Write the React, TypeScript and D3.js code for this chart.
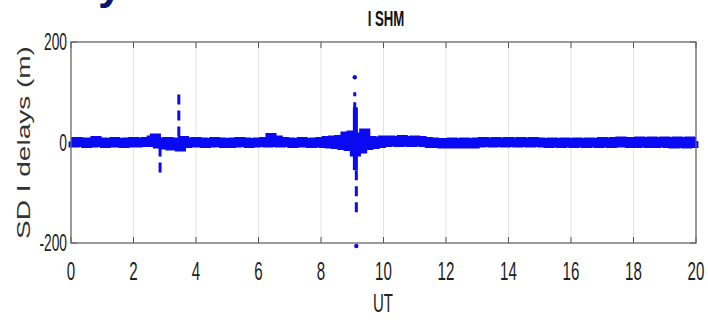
import React, { useEffect, useRef } from "react";
import * as d3 from "d3";

// UT hours sampled every 0.1 h, SD I delay in metres
const sampleStep = 0.1;
const sdDelay = [
  2, -2, 3, -1, 2, -3, 2, -2, 5, -1,
  2, -3, 1, -2, 3, -2, 1, -3, 2, -2,
  3, -2, 2, -1, 3, -1, 6, 10, -4, 2,
  -6, 3, -8, 2, -7, -10, 5, -3, 2, -2,
  3, -2, 2, -3, 1, -2, 3, -1, 2, -3,
  1, -3, 2, -2, 3, -1, 2, -3, 1, -2,
  2, -1, 3, -2, 11, -1, 6, -2, 3, -1,
  2, -3, 1, -2, 3, -2, 1, -3, 2, -2,
  3, -3, 5, -4, 6, -5, 7, -7, 14, -9,
  16, -20, 12, -14, 20, -7, 5, -5, 4, -3,
  6, -1, 6, 0, 5, -1, 7, 0, 5, -1,
  6, 0, 5, -1, 3, -3, 2, -3, 1, -4,
  1, -4, 2, -4, 1, -4, 2, -4, 1, -4,
  2, -2, 3, -1, 2, -2, 3, -1, 2, -2,
  3, -1, 2, -2, 3, -1, 2, -2, 3, -1,
  2, -2, 1, -3, 2, -2, 1, -3, 2, -2,
  1, -3, 2, -2, 1, -3, 2, -2, 1, -3,
  3, -2, 2, -3, 3, -2, 4, -2, 3, -3,
  3, -3, 4, -2, 3, -3, 4, -3, 3, -2,
  4, -3, 3, -4, 4, -3, 3, -4, 4, -3,
  3,
];

// short bursts that leave the band
const spikeHours = [2.85, 3.45, 9.08, 9.1, 9.13];
const spikeFrom = [-8, 12, 60, 70, -55];
const spikeTo = [-62, 100, 100, -55, -150];
const spikeDashed = [true, true, true, false, true];

// isolated points
const outlierHours = [9.08, 9.13];
const outlierValues = [130, -206];

const xTicks = [0, 2, 4, 6, 8, 10, 12, 14, 16, 18, 20];
const yTicks = [-200, 0, 200];

const W = 708;
const H = 331;
const margin = { left: 71, right: 12, top: 42, bottom: 88 };

export default function App() {
  const ref = useRef<SVGSVGElement>(null);

  useEffect(() => {
    const svg = d3.select(ref.current);
    svg.selectAll("*").remove();

    const x = d3.scaleLinear().domain([0, 20]).range([margin.left, W - margin.right]);
    const y = d3.scaleLinear().domain([-200, 200]).range([H - margin.bottom, margin.top]);

    const x0 = margin.left,
      x1 = W - margin.right,
      y0 = margin.top,
      y1 = H - margin.bottom;

    // cut-off heading from the page above
    svg
      .append("text")
      .attr("x", 98)
      .attr("y", -1)
      .attr("fill", "#0b1470")
      .style("font-family", "Liberation Sans, Arial, sans-serif")
      .style("font-weight", "bold")
      .style("font-size", "44px")
      .text("y");

    svg.append("rect").attr("x", x0).attr("y", y0).attr("width", x1 - x0).attr("height", y1 - y0).attr("fill", "#fff");

    // vertical grid
    svg
      .append("g")
      .selectAll("line")
      .data(xTicks.slice(1, -1))
      .enter()
      .append("line")
      .attr("x1", (d) => x(d))
      .attr("x2", (d) => x(d))
      .attr("y1", y0)
      .attr("y2", y1)
      .attr("stroke", "#e4e4e4")
      .attr("stroke-width", 1);

    // ticks, inward on all sides
    const tk = svg.append("g").attr("stroke", "#555").attr("stroke-width", 1);
    xTicks.forEach((t) => {
      tk.append("line").attr("x1", x(t)).attr("x2", x(t)).attr("y1", y1).attr("y2", y1 - 6);
      tk.append("line").attr("x1", x(t)).attr("x2", x(t)).attr("y1", y0).attr("y2", y0 + 6);
    });
    yTicks.forEach((t) => {
      tk.append("line").attr("x1", x0).attr("x2", x0 + 6).attr("y1", y(t)).attr("y2", y(t));
      tk.append("line").attr("x1", x1).attr("x2", x1 - 6).attr("y1", y(t)).attr("y2", y(t));
    });

    // main band
    const line = d3
      .line<number>()
      .x((d, i) => x(i * sampleStep))
      .y((d) => y(d))
      .curve(d3.curveStep);
    svg
      .append("path")
      .datum(sdDelay)
      .attr("d", line)
      .attr("fill", "none")
      .attr("stroke", "#0a0af2")
      .attr("stroke-width", 8)
      .attr("stroke-linejoin", "miter")
      .attr("stroke-linecap", "butt");

    // spikes
    svg
      .append("g")
      .selectAll("line")
      .data(spikeHours)
      .enter()
      .append("line")
      .attr("x1", (d) => x(d))
      .attr("x2", (d) => x(d))
      .attr("y1", (d, i) => y(spikeFrom[i]))
      .attr("y2", (d, i) => y(spikeTo[i]))
      .attr("stroke", "#0a0af2")
      .attr("stroke-width", (d, i) => (spikeDashed[i] ? 3 : 5))
      .attr("stroke-dasharray", (d, i) => (spikeDashed[i] ? "10,6" : null));

    svg
      .append("g")
      .selectAll("circle")
      .data(outlierHours)
      .enter()
      .append("circle")
      .attr("cx", (d) => x(d))
      .attr("cy", (d, i) => y(outlierValues[i]))
      .attr("r", 2.2)
      .attr("fill", "#0a0af2");

    // frame
    svg
      .append("rect")
      .attr("x", x0)
      .attr("y", y0)
      .attr("width", x1 - x0)
      .attr("height", y1 - y0)
      .attr("fill", "none")
      .attr("stroke", "#666")
      .attr("stroke-width", 1.3);

    const labelFont = "Liberation Sans Narrow, Liberation Sans, Arial, sans-serif";

    // x tick labels
    svg
      .append("g")
      .selectAll("text")
      .data(xTicks)
      .enter()
      .append("text")
      .attr("transform", (d) => `translate(${x(d)},${y1 + 37}) scale(0.58,1)`)
      .attr("text-anchor", "middle")
      .attr("fill", "#222")
      .style("font-family", labelFont)
      .style("font-size", "26px")
      .text((d) => d);

    // y tick labels
    svg
      .append("g")
      .selectAll("text")
      .data(yTicks)
      .enter()
      .append("text")
      .attr("transform", (d) => `translate(${x0 - 4},${y(d) + 8}) scale(0.6,1)`)
      .attr("text-anchor", "end")
      .attr("fill", "#222")
      .style("font-family", labelFont)
      .style("font-size", "23px")
      .text((d) => d);

    // title
    svg
      .append("text")
      .attr("transform", `translate(386,26) scale(0.6,1)`)
      .attr("text-anchor", "middle")
      .attr("fill", "#111")
      .style("font-family", "Liberation Sans, Arial, sans-serif")
      .style("font-weight", "bold")
      .style("font-size", "22px")
      .text("I SHM");

    // x axis title
    svg
      .append("text")
      .attr("transform", `translate(383,312) scale(0.6,1)`)
      .attr("text-anchor", "middle")
      .attr("fill", "#222")
      .style("font-family", "Liberation Sans, Arial, sans-serif")
      .style("font-size", "25px")
      .text("UT");

    // y axis title
    svg
      .append("text")
      .attr("transform", `translate(30,${(y0 + y1) / 2}) scale(0.68,1) rotate(-90)`)
      .attr("text-anchor", "middle")
      .attr("fill", "#333")
      .style("font-family", "Liberation Sans, Arial, sans-serif")
      .style("font-size", "28px")
      .text("SD I delays (m)");
  }, []);

  return (
    <svg
      ref={ref}
      width={W}
      height={H}
      viewBox={`0 0 ${W} ${H}`}
      style={{ position: "absolute", left: 0, top: 0, background: "#fff" }}
    ></svg>
  );
}
